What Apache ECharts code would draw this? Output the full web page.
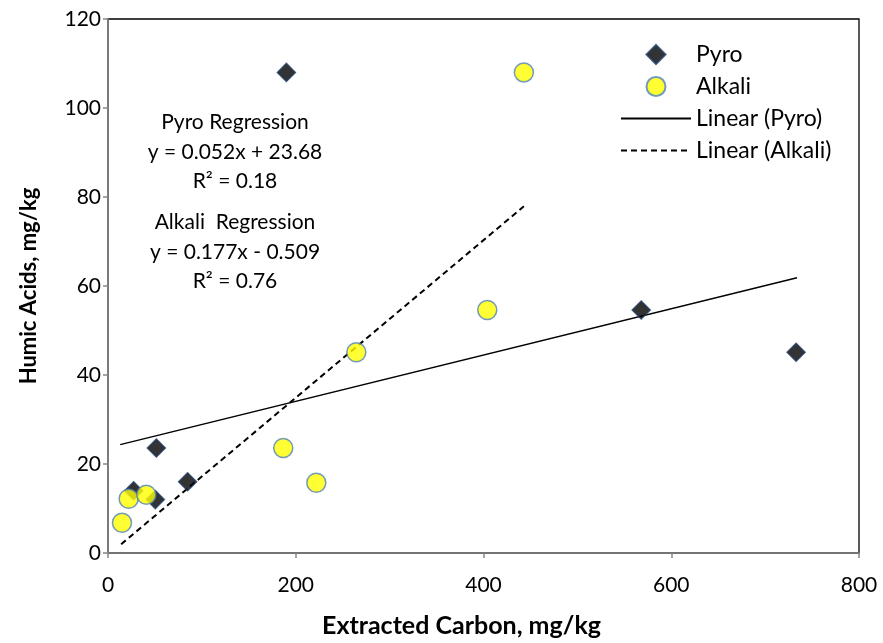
<!DOCTYPE html>
<html>
<head>
<meta charset="utf-8">
<script src="https://cdn.jsdelivr.net/npm/echarts@6/dist/echarts.min.js"></script>
<style>html,body{margin:0;padding:0;background:#fff}#c{width:883px;height:643px}</style>
</head>
<body>
<div id="c"></div>
<script>
// Data
const pyroX = [190, 568, 733, 51.5, 84.8, 50.4, 27.3];
const pyroY = [108, 54.6, 45.1, 23.6, 16.0, 12.0, 14.0];
const alkaliX = [443, 404, 264.5, 186.7, 221.9, 22, 40.8, 14.9];
const alkaliY = [108, 54.6, 45.1, 23.6, 15.8, 12.2, 13.1, 6.8];
// Regression lines (from reported equations) and their x-ranges
const pyroFit = {slope: 0.052, intercept: 23.68, xMin: 13, xMax: 734};
const alkaliFit = {slope: 0.177, intercept: -0.509, xMin: 14, xMax: 443};
const xTicks = [0, 200, 400, 600, 800];
const yTicks = [0, 20, 40, 60, 80, 100, 120];
const annotations = ["Pyro Regression", "y = 0.052x + 23.68", "R\u00B2 = 0.18", "Alkali  Regression", "y = 0.177x - 0.509", "R\u00B2 = 0.76"];

const FONT = 'Lato, "Open Sans", sans-serif';
const DIAMOND = 'path://M0,-1L1,0L0,1L-1,0Z';
const fitLine = f => [[f.xMin, f.slope*f.xMin+f.intercept],[f.xMax, f.slope*f.xMax+f.intercept]];
const zip = (a,b) => a.map((v,i)=>[v,b[i]]);

const chart = echarts.init(document.getElementById('c'), null, {renderer:'canvas'});
const annY = [122, 152, 181, 222, 252, 281];
chart.setOption({
  animation: false,
  backgroundColor: '#fff',
  textStyle: {fontFamily: FONT},
  grid: {left: 108, right: 24, top: 19, bottom: 87, show: true, borderColor: '#000', borderWidth: 1.3, backgroundColor: 'transparent'},
  xAxis: {
    type: 'value', min: xTicks[0], max: xTicks[xTicks.length-1], interval: 200,
    name: 'Extracted Carbon, mg/kg', nameLocation: 'middle', nameGap: 60,
    nameTextStyle: {fontFamily: FONT, fontSize: 25, fontWeight: 'bold', color: '#000', padding: [0, 44, 0, 0]},
    axisLine: {lineStyle: {color: '#868686', width: 1.5}},
    axisTick: {show: true, length: 5, lineStyle: {color: '#868686', width: 1.5}},
    axisLabel: {fontFamily: FONT, fontSize: 21, color: '#000', margin: 22},
    splitLine: {show: false}
  },
  yAxis: {
    type: 'value', min: yTicks[0], max: yTicks[yTicks.length-1], interval: 20,
    name: 'Humic Acids, mg/kg', nameLocation: 'middle', nameGap: 68, nameRotate: 90,
    nameTextStyle: {fontFamily: FONT, fontSize: 22, fontWeight: 'bold', color: '#000'},
    axisLine: {lineStyle: {color: '#868686', width: 1.5}},
    axisTick: {show: true, length: 5, lineStyle: {color: '#868686', width: 1.5}},
    axisLabel: {fontFamily: FONT, fontSize: 21, color: '#000', margin: 7},
    splitLine: {show: false}
  },
  legend: {
    orient: 'vertical', left: 615, top: 38, itemWidth: 70, itemHeight: 19, itemGap: 9,
    textStyle: {fontFamily: FONT, fontSize: 23, color: '#000', padding: [0,0,0,0]},
    data: [
      {name: 'Pyro'},
      {name: 'Alkali'},
      {name: 'Linear (Pyro)', itemStyle: {opacity: 0}},
      {name: 'Linear (Alkali)', itemStyle: {opacity: 0}}
    ]
  },
  series: [
    {name: 'Linear (Pyro)', type: 'line', data: fitLine(pyroFit), symbol: 'emptyCircle', showSymbol: false, z: 2,
     lineStyle: {color: '#000', width: 1.5, type: 'solid'}, itemStyle: {color: '#000'}},
    {name: 'Linear (Alkali)', type: 'line', data: fitLine(alkaliFit), symbol: 'emptyCircle', showSymbol: false, z: 2,
     lineStyle: {color: '#000', width: 2, type: [6, 4]}, itemStyle: {color: '#000'}},
    {name: 'Pyro', type: 'scatter', data: zip(pyroX, pyroY), symbol: DIAMOND, symbolKeepAspect: true, symbolSize: [18, 18], z: 3,
     itemStyle: {color: '#000', borderColor: '#1F3A60', borderWidth: 1.5}},
    {name: 'Alkali', type: 'scatter', data: zip(alkaliX, alkaliY), symbol: 'circle', symbolSize: 19, z: 4,
     itemStyle: {color: '#FFFF00', borderColor: '#4F81BD', borderWidth: 1.5}}
  ],
  graphic: annotations.map((t,i)=>({
    type: 'text', x: 235, y: annY[i], z: 10,
    style: {text: t, align: 'center', verticalAlign: 'middle', font: '21px ' + FONT, fill: '#000'}
  }))
});
</script>
</body>
</html>
